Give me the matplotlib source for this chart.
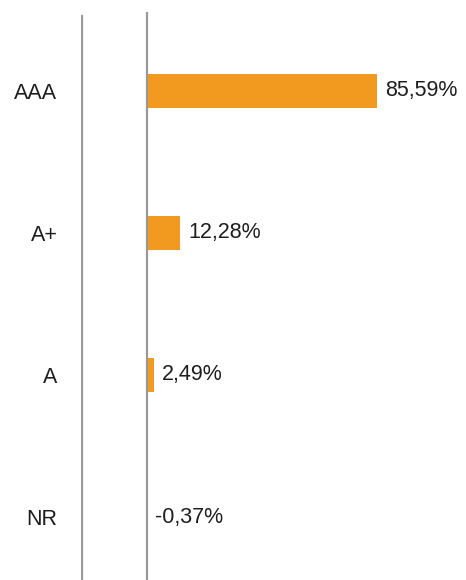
import matplotlib
matplotlib.use("Agg")
import matplotlib.pyplot as plt

categories = ["AAA", "A+", "A", "NR"]
values = [85.59, 12.28, 2.49, -0.37]

plt.rcParams['font.family'] = ['Liberation Sans', 'DejaVu Sans']

W, H = 466, 580
fig = plt.figure(figsize=(W / 100, H / 100), dpi=100)
left_px = 81
ax = fig.add_axes([left_px / W, 0, 1 - left_px / W, 1])

scale = 230 / 85.59  # px per unit
zero_px = 147
ax.set_xlim((left_px - zero_px) / scale, (W - zero_px) / scale)
spacing = 142
first = 91
ax.set_ylim((H - first) / spacing, -first / spacing)

pos = list(range(len(categories)))
ax.barh(pos, values, height=34 / spacing, color="#F29A20", zorder=2)

for p, v in zip(pos, values):
    txt = f"{v:.2f}".replace('.', ',') + '%'
    ax.annotate(txt, xy=(max(v, 0), p), xytext=(6, 0), textcoords="offset points",
                ha="left", va="center", fontsize=15.5, color="#1e1e1e")

ax.set_yticks(pos)
ax.set_yticklabels(categories, fontsize=15.5, color="#1e1e1e")
ax.tick_params(axis='y', length=0, pad=17)
ax.set_xticks([])
for s in ax.spines.values():
    s.set_visible(False)

ax.axvline((left_px + 0.5 - zero_px) / scale, ymin=0, ymax=1 - 16 / H, color="#999999", lw=1.6, zorder=3)
ax.axvline(0, ymin=0, ymax=1 - 13 / H, color="#999999", lw=1.6, zorder=3)

fig.savefig("out.png", dpi=100)
